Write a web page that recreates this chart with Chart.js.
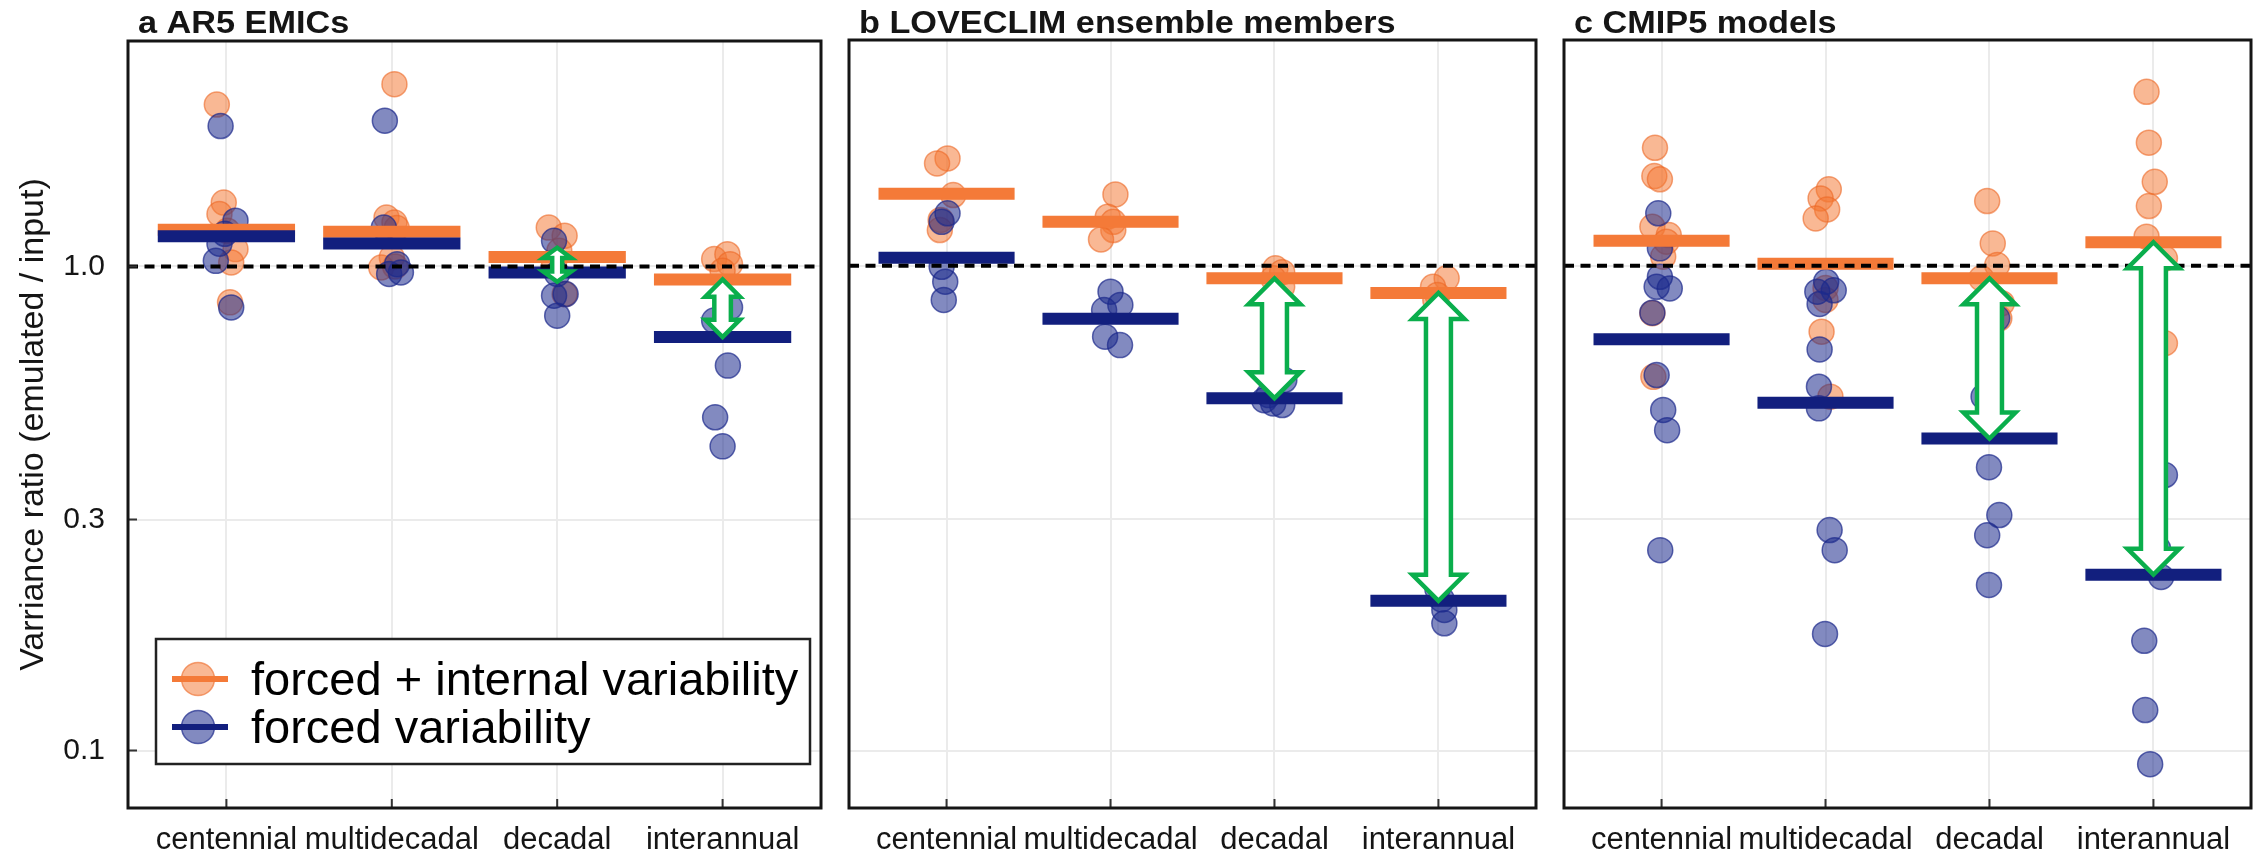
<!DOCTYPE html>
<html>
<head>
<meta charset="utf-8">
<title>Variance ratio of emulated to input variability</title>
<script src="https://cdn.jsdelivr.net/npm/chart.js@4.4.1/dist/chart.umd.min.js"></script>
<style>
  html, body { margin: 0; padding: 0; background: #ffffff; }
  #wrap { position: relative; width: 2265px; height: 858px; overflow: hidden; background: #ffffff; }
  #wrap canvas { position: absolute; top: 0; }
</style>
</head>
<body>
<div id="wrap">
  <canvas id="panelA"></canvas>
  <canvas id="panelB"></canvas>
  <canvas id="panelC"></canvas>
</div>
<script>
// ---- data -------------------------------------------------------------
const categories = ['centennial', 'multidecadal', 'decadal', 'interannual'];
const panelTitles = ['a AR5 EMICs', 'b LOVECLIM ensemble members', 'c CMIP5 models'];
const yTickValues = [0.1, 0.3, 1.0];
const yAxisTitle = 'Varriance ratio (emulated / input)';
const legendLabels = ['forced + internal variability', 'forced variability'];
const referenceRatio = 1.0;
const arrowCategories = ['decadal', 'interannual'];

// a: AR5 EMICs — individual models (forced + internal / forced only)
const emicTotal = [
  [2.16, 1.355, 1.283, 1.185, 1.086, 1.019, 0.843],
  [2.38, 1.262, 1.232, 1.2, 1.044, 1.0, 0.995],
  [1.203, 1.157, 1.077, 1.02, 0.877],
  [1.036, 1.06, 1.011, 0.98]
];
const emicTotalJitter = [
  [-0.058, -0.016, -0.042, 0.006, 0.055, 0.029, 0.022],
  [0.016, -0.032, 0.016, 0.03, 0.0, 0.02, -0.064],
  [-0.051, 0.045, 0.013, -0.019, 0.045],
  [-0.051, 0.029, 0.045, 0.0]
];
const emicForced = [
  [1.95, 1.243, 1.168, 1.114, 1.027, 0.823],
  [2.0, 1.203, 1.011, 0.965, 0.972],
  [1.13, 0.965, 0.87, 0.877, 0.791],
  [0.823, 0.773, 0.624, 0.488, 0.425]
];
const emicForcedJitter = [
  [-0.035, 0.055, -0.01, -0.042, -0.064, 0.029],
  [-0.042, -0.048, 0.032, -0.016, 0.055],
  [-0.019, 0.0, -0.019, 0.051, 0.0],
  [0.045, -0.051, 0.032, -0.045, 0.0]
];
const emicTotalMean = [1.19, 1.179, 1.046, 0.94];
const emicForcedMean = [1.155, 1.115, 0.972, 0.715];

// b: LOVECLIM ensemble members
const loveclimTotal = [
  [1.665, 1.626, 1.399, 1.243, 1.185],
  [1.403, 1.262, 1.232, 1.185, 1.133],
  [0.988, 0.97, 0.942, 0.905],
  [0.942, 0.905, 0.87, 0.85]
];
const loveclimTotalJitter = [
  [0.006, -0.058, 0.041, -0.036, -0.041],
  [0.03, -0.017, 0.017, 0.017, -0.058],
  [0.006, 0.047, -0.008, 0.047],
  [0.05, -0.033, -0.006, -0.019]
];
const loveclimForced = [
  [1.283, 1.232, 0.995, 0.927, 0.85],
  [0.884, 0.83, 0.81, 0.714, 0.686],
  [0.581, 0.541, 0.528, 0.52, 0.516],
  [0.215, 0.205, 0.195, 0.183]
];
const loveclimForcedJitter = [
  [0.006, -0.03, -0.03, -0.008, -0.017],
  [0.0, 0.06, -0.039, -0.033, 0.058],
  [0.06, -0.036, -0.063, -0.008, 0.047],
  [-0.006, 0.02, 0.036, 0.036]
];
const loveclimTotalMean = [1.407, 1.232, 0.942, 0.879];
const loveclimForcedMean = [1.039, 0.777, 0.533, 0.2036];

// c: CMIP5 models
const cmipTotal = [
  [1.751, 1.531, 1.508, 1.203, 1.157, 1.121, 1.044, 0.798, 0.59],
  [1.438, 1.377, 1.307, 1.252, 0.9, 0.85, 0.731, 0.537],
  [1.36, 1.112, 1.003, 0.942, 0.837, 0.779],
  [2.285, 1.794, 1.49, 1.328, 1.148, 1.036, 0.692]
];
const cmipTotalJitter = [
  [-0.04, -0.044, -0.01, -0.056, 0.044, 0.03, 0.01, -0.056, -0.05],
  [0.02, -0.03, 0.01, -0.06, 0.0, 0.0, -0.024, 0.03],
  [-0.014, 0.02, 0.047, -0.05, 0.075, 0.06],
  [-0.042, -0.028, 0.008, -0.028, -0.042, 0.07, 0.07]
];
const cmipForced = [
  [1.283, 1.086, 0.949, 0.905, 0.898, 0.80, 0.595, 0.504, 0.458, 0.259],
  [0.927, 0.884, 0.89, 0.834, 0.672, 0.563, 0.508, 0.285, 0.259, 0.174],
  [0.779, 0.563, 0.537, 0.384, 0.306, 0.278, 0.2195],
  [0.37, 0.261, 0.228, 0.1684, 0.1212, 0.0937]
];
const cmipForcedJitter = [
  [-0.02, -0.01, -0.01, -0.03, 0.05, -0.056, -0.03, 0.01, 0.034, -0.008],
  [0.004, -0.05, 0.05, -0.036, -0.036, -0.04, -0.04, 0.025, 0.056, -0.003],
  [0.047, 0.006, -0.036, -0.003, 0.06, -0.014, -0.003],
  [0.07, 0.028, 0.047, -0.056, -0.05, -0.02]
];
const cmipTotalMean = [1.126, 1.009, 0.942, 1.118];
const cmipForcedMean = [0.705, 0.5215, 0.44, 0.2305];

// ---- styling ----------------------------------------------------------
const FONT = '"Liberation Sans", Arial, Helvetica, sans-serif';
const ORANGE = '#F47A38';
const NAVY = '#121F7E';
const ORANGE_FILL = 'rgba(243, 118, 50, 0.52)';
const ORANGE_EDGE = 'rgba(236, 104, 36, 0.6)';
const NAVY_FILL = 'rgba(28, 42, 140, 0.55)';
const NAVY_EDGE = 'rgba(28, 42, 140, 0.7)';
const ARROW_GREEN = '#0AAE4C';
const GRID = '#EBEBEB';
const INK = '#151515';
const X_MIN = -0.595, X_MAX = 3.595;
const Y_MIN = 0.0761, Y_MAX = 2.922;
const BAR_HALF = 0.415;

const panels = [
  { title: panelTitles[0], total: emicTotal, totalJit: emicTotalJitter, forced: emicForced, forcedJit: emicForcedJitter,
    totalMean: emicTotalMean, forcedMean: emicForcedMean, canvas: 'panelA',
    left: 0, width: 835, axisW: 128, padRight: 6, yAxis: true, legend: true },
  { title: panelTitles[1], total: loveclimTotal, totalJit: loveclimTotalJitter, forced: loveclimForced, forcedJit: loveclimForcedJitter,
    totalMean: loveclimTotalMean, forcedMean: loveclimForcedMean, canvas: 'panelB',
    left: 835, width: 715, axisW: 7.5, padRight: 5.5, yAxis: false, legend: false },
  { title: panelTitles[2], total: cmipTotal, totalJit: cmipTotalJitter, forced: cmipForced, forcedJit: cmipForcedJitter,
    totalMean: cmipTotalMean, forcedMean: cmipForcedMean, canvas: 'panelC',
    left: 1550, width: 715, axisW: 8.3, padRight: 9, yAxis: false, legend: false }
];

// ---- helpers ----------------------------------------------------------
function scatterPoints(values, jitter) {
  const pts = [];
  values.forEach((group, i) => group.forEach((v, j) => pts.push({ x: i + jitter[i][j], y: v })));
  return pts;
}
function meanSegments(means) {
  const pts = [];
  means.forEach((m, i) => {
    pts.push({ x: i - BAR_HALF, y: m }, { x: i + BAR_HALF, y: m }, { x: i + 0.5, y: null });
  });
  return pts;
}
function drawDoubleArrow(ctx, x, yTop, yBot) {
  const len = yBot - yTop;
  const head = Math.min(26, len * 0.3);
  const headHalf = Math.max(head, 14);
  const shaftHalf = Math.max(head * 0.48, 5);
  ctx.save();
  ctx.beginPath();
  ctx.moveTo(x, yTop);
  ctx.lineTo(x + headHalf, yTop + head);
  ctx.lineTo(x + shaftHalf, yTop + head);
  ctx.lineTo(x + shaftHalf, yBot - head);
  ctx.lineTo(x + headHalf, yBot - head);
  ctx.lineTo(x, yBot);
  ctx.lineTo(x - headHalf, yBot - head);
  ctx.lineTo(x - shaftHalf, yBot - head);
  ctx.lineTo(x - shaftHalf, yTop + head);
  ctx.lineTo(x - headHalf, yTop + head);
  ctx.closePath();
  ctx.fillStyle = '#ffffff';
  ctx.fill();
  ctx.lineWidth = 4.5;
  ctx.lineJoin = 'miter';
  ctx.strokeStyle = ARROW_GREEN;
  ctx.stroke();
  ctx.restore();
}

function makeDecor(panel) {
  return {
    id: 'panelDecor',
    afterDatasetsDraw(chart) {
      const { ctx, chartArea: a } = chart;
      const xs = chart.scales.x, ys = chart.scales.y;
      // arrows between the two group means
      arrowCategories.forEach(name => {
        const i = categories.indexOf(name);
        const px = xs.getPixelForValue(i);
        let y1 = ys.getPixelForValue(panel.totalMean[i]);
        let y2 = ys.getPixelForValue(panel.forcedMean[i]);
        if (y1 > y2) { const t = y1; y1 = y2; y2 = t; }
        const minLen = 34;
        if (y2 - y1 < minLen) { const m = (y1 + y2) / 2; y1 = m - minLen / 2; y2 = m + minLen / 2; }
        drawDoubleArrow(ctx, px, y1, y2);
      });
      ctx.save();
      // inward tick marks
      ctx.strokeStyle = '#333333';
      ctx.lineWidth = 2;
      ctx.beginPath();
      categories.forEach((c, i) => {
        const px = xs.getPixelForValue(i);
        ctx.moveTo(px, a.bottom);
        ctx.lineTo(px, a.bottom - 9);
      });
      if (panel.yAxis) {
        yTickValues.forEach(v => {
          const py = ys.getPixelForValue(v);
          ctx.moveTo(a.left, py);
          ctx.lineTo(a.left + 9, py);
        });
      }
      ctx.stroke();
      // panel frame
      ctx.strokeStyle = INK;
      ctx.lineWidth = 3;
      ctx.strokeRect(a.left, a.top, a.right - a.left, a.bottom - a.top);
      ctx.restore();
    },
    afterDraw(chart) {
      const { ctx, chartArea: a } = chart;
      ctx.save();
      // panel title
      ctx.fillStyle = INK;
      ctx.font = 'bold 32px ' + FONT;
      ctx.textAlign = 'left';
      ctx.textBaseline = 'alphabetic';
      ctx.translate(a.left + 10, 33);
      ctx.scale(1.07, 1);
      ctx.fillText(panel.title, 0, 0);
      ctx.restore();

      if (panel.yAxis) {
        ctx.save();
        ctx.fillStyle = INK;
        ctx.font = '34px ' + FONT;
        ctx.textAlign = 'center';
        ctx.textBaseline = 'alphabetic';
        ctx.translate(43, (a.top + a.bottom) / 2);
        ctx.rotate(-Math.PI / 2);
        ctx.fillText(yAxisTitle, 0, 0);
        ctx.restore();
      }

      if (panel.legend) {
        ctx.save();
        const bx = 156, by = 639, bw = 654, bh = 125;
        ctx.fillStyle = '#ffffff';
        ctx.fillRect(bx, by, bw, bh);
        ctx.strokeStyle = '#222222';
        ctx.lineWidth = 2.5;
        ctx.strokeRect(bx, by, bw, bh);
        const rows = [
          { label: legendLabels[0], fill: ORANGE_FILL, edge: ORANGE_EDGE, line: ORANGE, cy: 679 },
          { label: legendLabels[1], fill: NAVY_FILL, edge: NAVY_EDGE, line: NAVY, cy: 727 }
        ];
        rows.forEach(r => {
          ctx.beginPath();
          ctx.arc(198, r.cy, 16.5, 0, Math.PI * 2);
          ctx.fillStyle = r.fill;
          ctx.fill();
          ctx.lineWidth = 1.5;
          ctx.strokeStyle = r.edge;
          ctx.stroke();
          ctx.beginPath();
          ctx.moveTo(172, r.cy);
          ctx.lineTo(228, r.cy);
          ctx.lineWidth = 6;
          ctx.strokeStyle = r.line;
          ctx.stroke();
          ctx.fillStyle = '#000000';
          ctx.font = '47px ' + FONT;
          ctx.textAlign = 'left';
          ctx.textBaseline = 'alphabetic';
          ctx.fillText(r.label, 251, r.cy + 16);
        });
        ctx.restore();
      }
    }
  };
}

// ---- charts -----------------------------------------------------------
panels.forEach(panel => {
  const cv = document.getElementById(panel.canvas);
  cv.width = panel.width;
  cv.height = 858;
  cv.style.left = panel.left + 'px';
  cv.style.width = panel.width + 'px';
  cv.style.height = '858px';

  const datasets = [
    { label: 'reference', data: [{ x: X_MIN, y: referenceRatio }, { x: X_MAX, y: referenceRatio }],
      showLine: true, borderColor: '#000000', borderWidth: 4, borderDash: [10, 6.5],
      pointRadius: 0, order: 0 },
    { label: legendLabels[1] + ' mean', data: meanSegments(panel.forcedMean),
      showLine: true, borderColor: NAVY, borderWidth: 12, borderCapStyle: 'butt', spanGaps: false,
      pointRadius: 0, order: 1 },
    { label: legendLabels[0] + ' mean', data: meanSegments(panel.totalMean),
      showLine: true, borderColor: ORANGE, borderWidth: 12, borderCapStyle: 'butt', spanGaps: false,
      pointRadius: 0, order: 2 },
    { label: legendLabels[1], data: scatterPoints(panel.forced, panel.forcedJit),
      pointRadius: 12.5, backgroundColor: NAVY_FILL, borderColor: NAVY_EDGE, borderWidth: 1.5, order: 3 },
    { label: legendLabels[0], data: scatterPoints(panel.total, panel.totalJit),
      pointRadius: 12.5, backgroundColor: ORANGE_FILL, borderColor: ORANGE_EDGE, borderWidth: 1.5, order: 4 }
  ];

  new Chart(cv, {
    type: 'scatter',
    data: { datasets },
    options: {
      responsive: false,
      animation: false,
      events: [],
      layout: { padding: { top: 40, right: panel.padRight, bottom: 0, left: 0 } },
      plugins: { legend: { display: false }, tooltip: { enabled: false }, title: { display: false } },
      scales: {
        x: {
          type: 'linear', min: X_MIN, max: X_MAX,
          afterBuildTicks: s => { s.ticks = categories.map((c, i) => ({ value: i })); },
          afterFit: s => { s.height = 50; },
          ticks: {
            callback: v => categories[v],
            autoSkip: false, maxRotation: 0, minRotation: 0,
            padding: 14, color: INK, font: { family: FONT, size: 31 }
          },
          grid: { color: GRID, lineWidth: 2, drawTicks: false },
          border: { display: false }
        },
        y: {
          type: 'logarithmic', min: Y_MIN, max: Y_MAX,
          afterBuildTicks: s => { s.ticks = yTickValues.map(v => ({ value: v })); },
          afterFit: s => { s.width = panel.axisW; },
          ticks: {
            display: panel.yAxis,
            callback: v => Number(v).toFixed(1),
            padding: 23, color: INK, font: { family: FONT, size: 30 }
          },
          grid: { color: GRID, lineWidth: 2, drawTicks: false },
          border: { display: false }
        }
      }
    },
    plugins: [makeDecor(panel)]
  });
});
</script>
</body>
</html>
